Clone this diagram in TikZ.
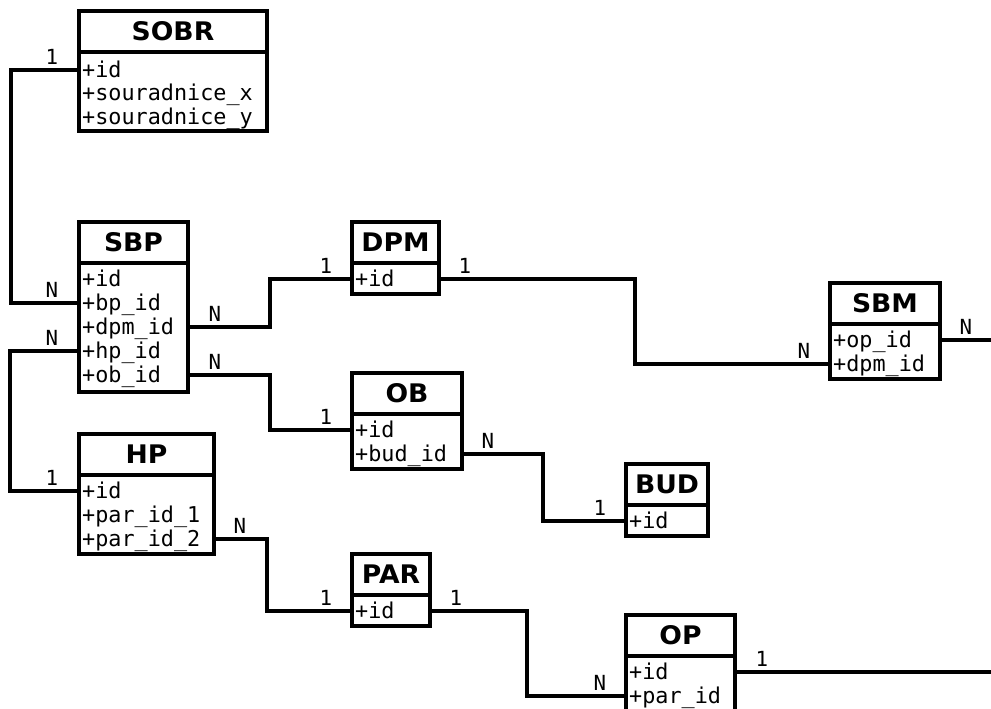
\documentclass[tikz,border=0pt]{standalone}
\usepackage{fontspec}
\usepackage{tikz}
\newfontfamily\titlefont[FakeStretch=1.04]{DejaVu Sans}
\newfontfamily\attrfont{DejaVu Sans Mono}

\begin{document}
\begin{tikzpicture}[x=0.5pt,y=-0.5pt]
	% --- Rozmery: 1 jednotka = 1 px, osa y smeruje dolu ---
	\useasboundingbox (0,0) rectangle (991,708);
	\clip (0,0) rectangle (991,708);
	\tikzset{
		entity/.style={draw, line width=1.6pt, anchor=north west, minimum height=20.5pt, inner sep=0pt, outer sep=0pt,
			font=\titlefont\bfseries\fontsize{12.8}{14}\selectfont},
		fields/.style={draw, line width=1.6pt, anchor=north, inner sep=0pt, outer sep=0pt},
		attr/.style={anchor=west, inner xsep=1.6pt, inner ysep=0pt, outer sep=0pt, text height=7.8pt, text depth=0pt,
			font=\attrfont\fontsize{10.9}{12}\selectfont},
		card/.style={anchor=south, inner sep=0pt, yshift=2pt, font=\attrfont\fontsize{10.4}{12}\selectfont},
		link/.style={line width=1.6pt}
	}
	\coordinate (edgeR) at (991,0);

	% --- Entity ---
	% SOBR
	\node[entity, minimum width=94pt] (sobr) at (79,11) {SOBR};
	\node[fields, minimum width=94pt, minimum height=39.5pt] (sobr-f) at (sobr.south) {};
	\foreach \n/\t/\y in {id/id/70, x/souradnice\_x/93, y/souradnice\_y/117}
		\node[attr] (sobr-\n) at (79,\y) {+\t};
	% SBP
	\node[entity, minimum width=54.5pt] (sbp) at (79,222) {SBP};
	\node[fields, minimum width=54.5pt, minimum height=64.5pt] (sbp-f) at (sbp.south) {};
	\foreach \n/\t/\y in {id/id/279, bp/bp\_id/303, dpm/dpm\_id/327, hp/hp\_id/351, ob/ob\_id/375}
		\node[attr] (sbp-\n) at (79,\y) {+\t};
	% DPM
	\node[entity, minimum width=43.5pt] (dpm) at (352,222) {DPM};
	\node[fields, minimum width=43.5pt, minimum height=15.5pt] (dpm-f) at (dpm.south) {};
	\node[attr] (dpm-id) at (352,279) {+id};
	% SBM
	\node[entity, minimum width=55pt] (sbm) at (830,283) {SBM};
	\node[fields, minimum width=55pt, minimum height=27.5pt] (sbm-f) at (sbm.south) {};
	\foreach \n/\t/\y in {op/op\_id/340, dpm/dpm\_id/364}
		\node[attr] (sbm-\n) at (830,\y) {+\t};
	% OB
	\node[entity, minimum width=55pt] (ob) at (352,373) {OB};
	\node[fields, minimum width=55pt, minimum height=27.5pt] (ob-f) at (ob.south) {};
	\foreach \n/\t/\y in {id/id/430, bud/bud\_id/454}
		\node[attr] (ob-\n) at (352,\y) {+\t};
	% BUD
	\node[entity, minimum width=41pt] (bud) at (626,464) {BUD};
	\node[fields, minimum width=41pt, minimum height=15.5pt] (bud-f) at (bud.south) {};
	\node[attr] (bud-id) at (626,521) {+id};
	% HP
	\node[entity, minimum width=67.5pt] (hp) at (79,434) {HP};
	\node[fields, minimum width=67.5pt, minimum height=39.5pt] (hp-f) at (hp.south) {};
	\foreach \n/\t/\y in {id/id/491, p1/par\_id\_1/515, p2/par\_id\_2/539}
		\node[attr] (hp-\n) at (79,\y) {+\t};
	% PAR
	\node[entity, minimum width=39pt] (par) at (352,554) {PAR};
	\node[fields, minimum width=39pt, minimum height=15.5pt] (par-f) at (par.south) {};
	\node[attr] (par-id) at (352,611) {+id};
	% OP
	\node[entity, minimum width=54.5pt] (op) at (626,615) {OP};
	\node[fields, minimum width=54.5pt, minimum height=27.5pt] (op-f) at (op.south) {};
	\foreach \n/\t/\y in {id/id/672, par/par\_id/696}
		\node[attr] (op-\n) at (626,\y) {+\t};

	% --- Vazby (1:N) ---
	\draw[link] (sobr-id.west) node[card, xshift=-13.5pt] {1} -- ++(-68,0) |- (sbp-bp.west) node[card, xshift=-13.5pt] {N};
	\draw[link] (sbp-hp.west) node[card, xshift=-13.5pt] {N} -- ++(-69,0) |- (hp-id.west) node[card, xshift=-13.5pt] {1};
	\draw[link] (sbp-dpm -| sbp.east) node[card, xshift=13.5pt] {N} -- ++(82,0) |- (dpm-id.west) node[card, xshift=-13pt] {1};
	\draw[link] (sbp-ob -| sbp.east) node[card, xshift=13.5pt] {N} -- ++(82,0) |- (ob-id.west) node[card, xshift=-13pt] {1};
	\draw[link] (dpm-id -| dpm.east) node[card, xshift=13pt] {1} -- ++(196,0) |- (sbm-dpm.west) node[card, xshift=-13pt] {N};
	\draw[link] (ob-bud -| ob.east) node[card, xshift=13pt] {N} -- ++(81,0) |- (bud-id.west) node[card, xshift=-13pt] {1};
	\draw[link] (hp-p2 -| hp.east) node[card, xshift=13pt] {N} -- ++(53,0) |- (par-id.west) node[card, xshift=-13pt] {1};
	\draw[link] (par-id -| par.east) node[card, xshift=13pt] {1} -- ++(97,0) |- (op-par.west) node[card, xshift=-13pt] {N};
	\draw[link] (sbm-op -| sbm.east) node[card, xshift=13pt] {N} -- (sbm-op -| edgeR);
	\draw[link] (op-id -| op.east) node[card, xshift=13.5pt] {1} -- (op-id -| edgeR);
\end{tikzpicture}
\end{document}
